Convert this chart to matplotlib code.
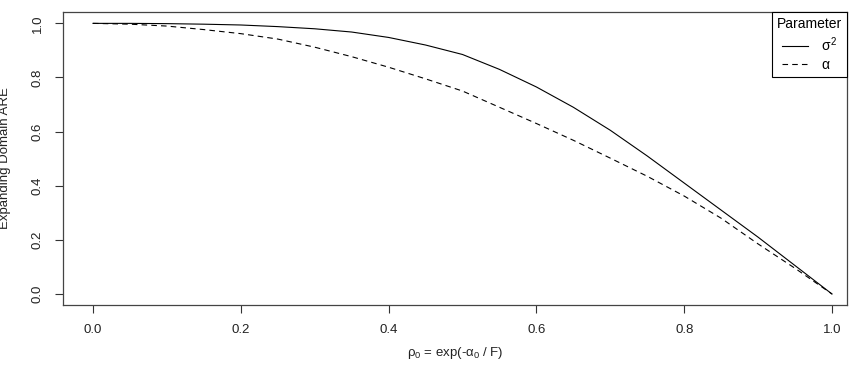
import matplotlib
matplotlib.use("Agg")
import matplotlib.pyplot as plt

plt.rcParams['font.family'] = ['Liberation Sans', 'DejaVu Sans']
plt.rcParams['mathtext.fontset'] = 'custom'
plt.rcParams['mathtext.rm'] = 'Liberation Sans'
plt.rcParams['mathtext.it'] = 'Liberation Sans'
plt.rcParams['mathtext.bf'] = 'Liberation Sans:bold'
plt.rcParams['lines.scale_dashes'] = False

rho = [0.0, 0.05, 0.1, 0.15, 0.2, 0.25, 0.3, 0.35, 0.4, 0.45, 0.5,
       0.55, 0.6, 0.65, 0.7, 0.75, 0.8, 0.85, 0.9, 0.95, 1.0]
are_sigma2 = [1.0, 1.0, 0.999, 0.997, 0.994, 0.988, 0.98, 0.968, 0.948, 0.92, 0.885,
              0.83, 0.765, 0.69, 0.605, 0.51, 0.41, 0.31, 0.21, 0.105, 0.0]
are_alpha = [1.0, 0.997, 0.99, 0.977, 0.962, 0.942, 0.912, 0.877, 0.838, 0.795, 0.75,
             0.69, 0.63, 0.568, 0.502, 0.435, 0.362, 0.28, 0.185, 0.095, 0.0]
xticks = [0.0, 0.2, 0.4, 0.6, 0.8, 1.0]
yticks = [0.0, 0.2, 0.4, 0.6, 0.8, 1.0]

fig = plt.figure(figsize=(8.65, 3.78), dpi=100)
ax = fig.add_axes([63/865, 1 - 305/378, (847-63)/865, (305-12)/378])

ax.plot(rho, are_sigma2, color='black', lw=0.8, label=r'$\sigma^2$')
ax.plot(rho, are_alpha, color='black', lw=0.8, dashes=(4, 3), label=r'$\alpha$')

ax.set_xlim(-0.0406, 1.0203)
ax.set_ylim(-0.0406, 1.042)
ax.set_xticks(xticks)
ax.set_xticklabels([f"{v:.1f}" for v in xticks])
ax.set_yticks(yticks)
ax.set_yticklabels([f"{v:.1f}" for v in yticks], rotation=90, va='center')
ax.tick_params(axis='both', direction='out', length=6, width=0.8, color='#333333',
               labelsize=9.5, labelcolor='#222222', pad=8)
for s in ax.spines.values():
    s.set_color('#444444')
    s.set_linewidth(0.9)

ax.set_xlabel(r'$\mathregular{\rho_0}$ = exp(-$\mathregular{\alpha_0}$ / F)', fontsize=9.5,
              labelpad=6, color='#222222')
ax.set_ylabel('Expanding Domain ARE', fontsize=9.5, labelpad=10, color='#222222')
ax.yaxis.set_label_coords(-0.066, 0.5)

leg = ax.legend(title='Parameter', loc='upper right', bbox_to_anchor=(1.0, 1.0),
                borderaxespad=0, fancybox=False, edgecolor='black', fontsize=10,
                title_fontsize=10, handlelength=1.9, handletextpad=0.9,
                labelspacing=0.3, borderpad=0.35, framealpha=1)
leg.get_frame().set_linewidth(0.8)

fig.savefig('out.png', dpi=100)
